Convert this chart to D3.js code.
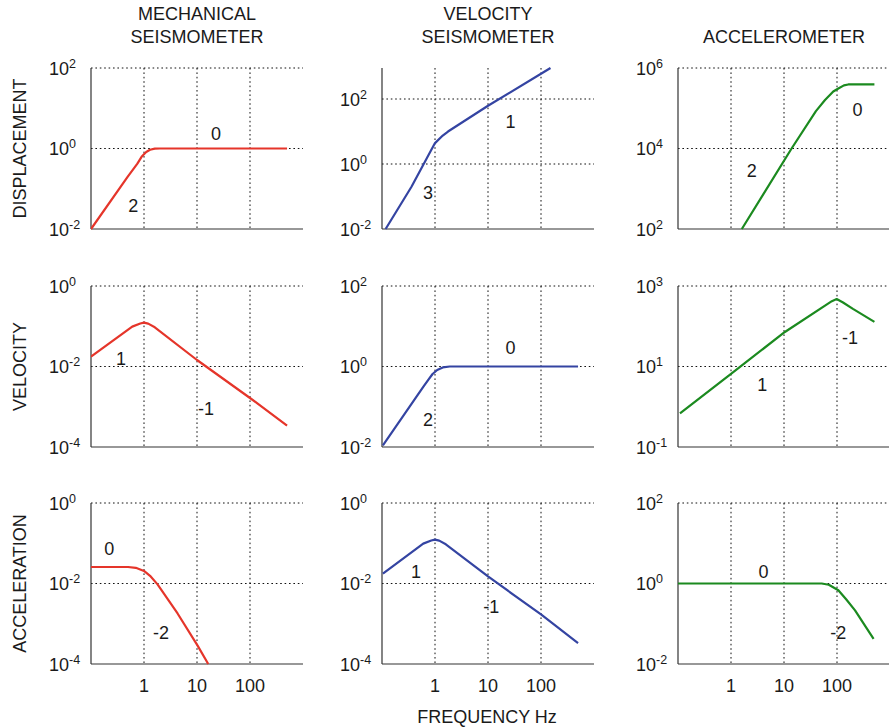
<!DOCTYPE html>
<html>
<head>
<meta charset="utf-8">
<script src="https://cdn.jsdelivr.net/npm/d3@7/dist/d3.min.js"></script>
<style>
  body { margin: 0; background: #fff; }
  svg text { font-family: "Liberation Sans", Arial, Helvetica, sans-serif; fill: #1a1a1a; }
</style>
</head>
<body>
<svg id="chart" width="889" height="727"></svg>
<script>
// column / row headings
const colTitles = [["MECHANICAL", "SEISMOMETER"], ["VELOCITY", "SEISMOMETER"], ["ACCELEROMETER"]];
const rowTitles = ["DISPLACEMENT", "VELOCITY", "ACCELERATION"];
const freqTicks = [1, 10, 100];
const freqTickLabels = ["1", "10", "100"];

// mechanical seismometer
const mechDispF = [0.1, 0.49, 0.75, 0.9, 1.1, 1.3, 1.6, 2, 500];
const mechDispV = [0.01, 0.197, 0.42, 0.62, 0.82, 0.93, 0.99, 1, 1];
const mechVelF = [0.1, 0.6, 0.85, 1.0, 1.2, 1.6, 10, 100, 500];
const mechVelV = [0.0175, 0.098, 0.117, 0.123, 0.116, 0.094, 0.0145, 0.00165, 0.00034];
const mechAccF = [0.1, 0.5, 0.7, 1.0, 1.3, 1.8, 4.3, 10.2, 16.3];
const mechAccV = [0.0257, 0.0257, 0.0245, 0.0205, 0.0155, 0.0095, 0.0018, 0.00029, 0.0001];

// velocity seismometer
const velDispF = [0.117, 0.36, 0.7, 1.0, 1.4, 1.76, 10, 100, 151];
const velDispV = [0.01, 0.2, 1.5, 4.4, 7.5, 10, 62, 600, 900];
const velVelF = [0.104, 0.6, 0.74, 0.9, 1.1, 1.4, 1.9, 500];
const velVelV = [0.011, 0.31, 0.46, 0.65, 0.82, 0.95, 1, 1];
const velAccF = [0.104, 0.6, 0.85, 1.0, 1.2, 1.6, 10, 100, 500];
const velAccV = [0.0175, 0.098, 0.117, 0.123, 0.116, 0.094, 0.015, 0.0017, 0.00033];

// accelerometer
const accDispF = [1.6, 13.9, 40, 59.4, 85, 106, 135, 163, 508];
const accDispV = [100, 1e4, 8.5e4, 1.6e5, 2.6e5, 3.1e5, 3.7e5, 3.9e5, 3.9e5];
const accVelF = [0.109, 1, 10.4, 80, 98.6, 130, 200, 508];
const accVelV = [0.68, 6.6, 72, 420, 473, 390, 270, 128];
const accAccF = [0.1, 51.5, 70, 106, 150, 219, 490];
const accAccV = [1, 1, 0.93, 0.68, 0.4, 0.215, 0.042];

// y domains and labelled decades (exponents)
const yDomains = [
  [[1e-2, 1e2], [1e-2, 900], [1e2, 1e6]],
  [[1e-4, 1e0], [1e-2, 1e2], [1e-1, 1e3]],
  [[1e-4, 1e0], [1e-4, 1e0], [1e-2, 1e2]]
];
const yExps = [
  [[-2, 0, 2], [-2, 0, 2], [2, 4, 6]],
  [[-4, -2, 0], [-2, 0, 2], [-1, 1, 3]],
  [[-4, -2, 0], [-4, -2, 0], [-2, 0, 2]]
];

// slope annotations: [freq, value, text]
const slopeLabels = [
  [[[0.63, 0.039, "2"], [22.8, 2.37, "0"]], [[0.74, 0.134, "3"], [26.7, 20.5, "1"]], [[2.46, 2900, "2"], [243, 9.5e4, "0"]]],
  [[[0.37, 0.0158, "1"], [14.8, 0.00089, "-1"]], [[0.74, 0.047, "2"], [26.7, 3.0, "0"]], [[3.9, 3.55, "1"], [176, 54, "-1"]]],
  [[[0.22, 0.072, "0"], [2.1, 0.00059, "-2"]], [[0.44, 0.02, "1"], [11.5, 0.0027, "-1"]], [[4.1, 1.94, "0"], [106, 0.059, "-2"]]]
];

const series = [
  [[mechDispF, mechDispV], [velDispF, velDispV], [accDispF, accDispV]],
  [[mechVelF, mechVelV], [velVelF, velVelV], [accVelF, accVelV]],
  [[mechAccF, mechAccV], [velAccF, velAccV], [accAccF, accAccV]]
];
const colColors = ["#e5352a", "#3444a2", "#1b8a1f"];

const svg = d3.select("#chart");
const colLeft = [91, 382, 678];
const rowTop = [68, 286, 503];
const pw = 212, ph = 161;
const fs = 18;

// column titles
colTitles.forEach(function (lines, c) {
  const cx = colLeft[c] + pw / 2;
  const y0 = lines.length == 2 ? 20 : 42.5;
  lines.forEach(function (t, i) {
    svg.append("text")
      .attr("x", cx).attr("y", y0 + i * 22.5)
      .attr("text-anchor", "middle")
      .style("font-size", fs + "px")
      .text(t);
  });
});

// row titles
rowTitles.forEach(function (t, r) {
  svg.append("text")
    .attr("transform", "translate(25.5," + (rowTop[r] + ph / 2) + ") rotate(-90)")
    .attr("text-anchor", "middle")
    .style("font-size", fs + "px")
    .text(t);
});

for (let r = 0; r < 3; r++) {
  for (let c = 0; c < 3; c++) {
    const x0 = colLeft[c], y0 = rowTop[r];
    const x = d3.scaleLog().domain([0.1, 1000]).range([x0, x0 + pw]);
    const y = d3.scaleLog().domain(yDomains[r][c]).range([y0 + ph, y0]);
    const g = svg.append("g");

    // grid
    g.selectAll(".vgrid").data(freqTicks).enter().append("line")
      .attr("x1", d => x(d)).attr("x2", d => x(d))
      .attr("y1", y0).attr("y2", y0 + ph)
      .attr("stroke", "#111").attr("stroke-width", 1)
      .attr("stroke-dasharray", "1.6,2.8");
    g.selectAll(".hgrid").data(yExps[r][c].slice(1)).enter().append("line")
      .attr("x1", x0).attr("x2", x0 + pw)
      .attr("y1", d => y(Math.pow(10, d))).attr("y2", d => y(Math.pow(10, d)))
      .attr("stroke", "#111").attr("stroke-width", 1)
      .attr("stroke-dasharray", "1.6,2.8");

    // spines
    g.append("line").attr("x1", x0).attr("x2", x0).attr("y1", y0).attr("y2", y0 + ph)
      .attr("stroke", "#333").attr("stroke-width", 1.2);
    g.append("line").attr("x1", x0).attr("x2", x0 + pw).attr("y1", y0 + ph).attr("y2", y0 + ph)
      .attr("stroke", "#333").attr("stroke-width", 1.2);

    // y tick labels 10^n
    yExps[r][c].forEach(function (e) {
      const t = g.append("text")
        .attr("x", x0 - 42).attr("y", y(Math.pow(10, e)) + 6.5)
        .style("font-size", fs + "px");
      t.append("tspan").text("10");
      t.append("tspan").attr("dy", -7).style("font-size", "12.5px").text(e);
    });

    // x tick labels on bottom row
    if (r == 2) {
      g.selectAll(".xt").data(freqTicks).enter().append("text")
        .attr("x", d => x(d)).attr("y", y0 + ph + 28)
        .attr("text-anchor", "middle")
        .style("font-size", fs + "px")
        .text((d, i) => freqTickLabels[i]);
    }

    // curve
    const clipId = "clip" + r + c;
    svg.append("clipPath").attr("id", clipId)
      .append("rect").attr("x", x0).attr("y", y0 - 1).attr("width", pw).attr("height", ph + 2);
    const fr = series[r][c][0], vals = series[r][c][1];
    const pts = fr.map((f, i) => [f, vals[i]]);
    g.append("path")
      .attr("clip-path", "url(#" + clipId + ")")
      .attr("d", d3.line().x(d => x(d[0])).y(d => y(d[1]))(pts))
      .attr("fill", "none")
      .attr("stroke", colColors[c])
      .attr("stroke-width", 2.2)
      .attr("stroke-linejoin", "round");

    // slope labels
    slopeLabels[r][c].forEach(function (l) {
      g.append("text")
        .attr("x", x(l[0])).attr("y", y(l[1]) + 6.5)
        .attr("text-anchor", "middle")
        .style("font-size", fs + "px")
        .text(l[2]);
    });
  }
}

svg.append("text")
  .attr("x", colLeft[1] + pw / 2 - 1).attr("y", 723)
  .attr("text-anchor", "middle")
  .style("font-size", fs + "px")
  .text("FREQUENCY Hz");
</script>
</body>
</html>
